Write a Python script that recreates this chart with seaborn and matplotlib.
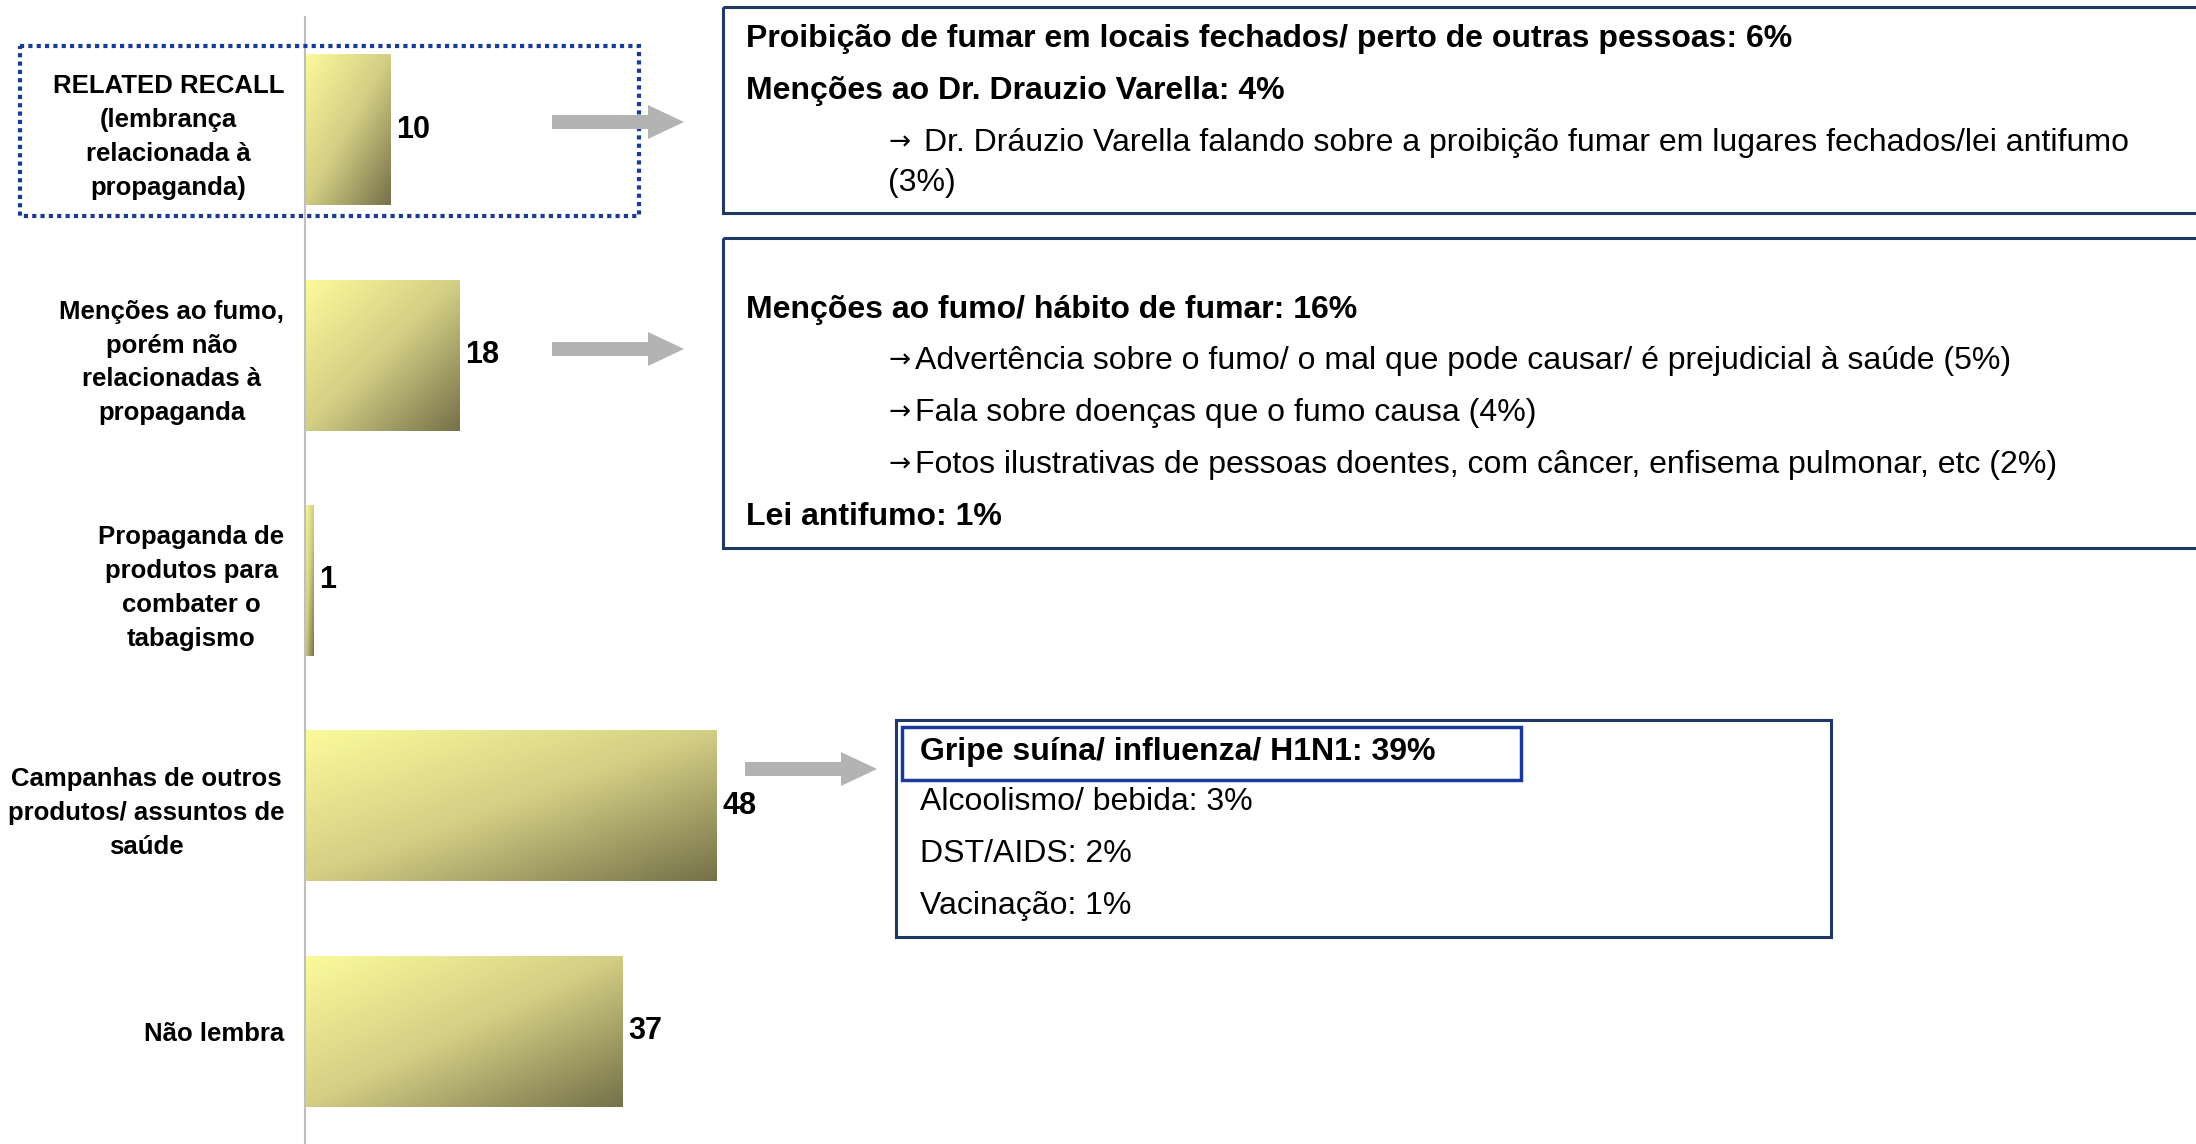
import numpy as np
import pandas as pd
import seaborn as sns
import matplotlib.pyplot as plt
from matplotlib.colors import LinearSegmentedColormap
from matplotlib.patches import Rectangle, FancyArrow

# chart data
categories = [
    "RELATED RECALL\n(lembrança\nrelacionada à\npropaganda)",
    "Menções ao fumo,\nporém não\nrelacionadas à\npropaganda",
    "Propaganda de\nprodutos para\ncombater o\ntabagismo",
    "Campanhas de outros\nprodutos/ assuntos de\nsaúde",
    "Não lembra",
]
values = [10, 18, 1, 48, 37]

# callout texts
box1_bold = ["Proibição de fumar em locais fechados/ perto de outras pessoas: 6%",
             "Menções ao Dr. Drauzio Varella: 4%"]
box1_sub = ["Dr. Dráuzio Varella falando sobre a proibição fumar em lugares fechados/lei antifumo",
            "(3%)"]
box2_head = "Menções ao fumo/ hábito de fumar: 16%"
box2_sub = ["Advertência sobre o fumo/ o mal que pode causar/ é prejudicial à saúde (5%)",
            "Fala sobre doenças que o fumo causa (4%)",
            "Fotos ilustrativas de pessoas doentes, com câncer, enfisema pulmonar, etc (2%)"]
box2_tail = "Lei antifumo: 1%"
box3_head = "Gripe suína/ influenza/ H1N1: 39%"
box3_rest = ["Alcoolismo/ bebida: 3%", "DST/AIDS: 2%", "Vacinação: 1%"]

sns.set_style("white")
plt.rcParams['font.family'] = ['Liberation Sans', 'DejaVu Sans']
plt.rcParams['text.color'] = 'black'

W, H = 2196, 1144
fig = plt.figure(figsize=(W / 100, H / 100), dpi=100)
ax = fig.add_axes([305 / W, 0, 1 - 305 / W, 1127 / H])

df = pd.DataFrame({'cat': categories, 'val': values})
sns.barplot(data=df, x='val', y='cat', orient='h', width=0.67,
            color='#D6D286', ax=ax)

# diagonal gradient fill for the bars
cmap = LinearSegmentedColormap.from_list('olive', ['#FBFB9B', '#D2CE84', '#767149'])
u, v = np.meshgrid(np.linspace(0, 1, 200), np.linspace(0, 1, 100))
grad = (u + v) / 2
for p in ax.patches:
    x0, y0 = p.get_x(), p.get_y()
    w, h = p.get_width(), p.get_height()
    im = ax.imshow(grad, cmap=cmap, extent=(x0, x0 + w, y0 + h, y0),
                   aspect='auto', origin='upper', zorder=p.get_zorder() + 0.1)
    im.set_clip_path(p)

ax.bar_label(ax.containers[0], padding=4, fontsize=22, fontweight='bold',
             color='black')

ax.set_xlim(0, 220.4)
ax.set_ylim(4.5, -0.5)
ax.set_xticks([])
ax.set_xlabel('')
ax.set_ylabel('')
for s in ['top', 'right', 'bottom']:
    ax.spines[s].set_visible(False)
ax.spines['left'].set_color('#BFBFBF')
ax.spines['left'].set_linewidth(1.5)
ax.set_yticks(np.arange(-0.5, 5, 1), minor=True)
ax.tick_params(axis='y', which='major', length=0, pad=15, labelsize=18.5,
               labelcolor='black')
ax.tick_params(axis='y', which='minor', length=6, width=1.5, color='#BFBFBF')
for lbl in ax.get_yticklabels():
    lbl.set_fontweight('bold')
    lbl.set_multialignment('center')
    lbl.set_linespacing(1.52)

# overlay in pixel coordinates for the callouts
ov = fig.add_axes([0, 0, 1, 1])
ov.set_xlim(0, W)
ov.set_ylim(H, 0)
ov.axis('off')

navy = '#1F3864'
blue = '#1A3A99'
ov.add_patch(Rectangle((20, 46), 619, 170, fill=False, ec=blue, lw=3,
                       ls=(0, (1, 1))))
ov.add_patch(Rectangle((723, 7), 1500, 206, fill=False, ec=navy, lw=2.2))
ov.add_patch(Rectangle((723, 238), 1500, 310, fill=False, ec=navy, lw=2.2))
ov.add_patch(Rectangle((896, 720), 935, 217, fill=False, ec=navy, lw=2.2))
ov.add_patch(Rectangle((902, 727), 619, 53, fill=False, ec=blue, lw=2.5))

for (x, y) in [(552, 122), (552, 349), (745, 769)]:
    ov.add_patch(FancyArrow(x, y, 132, 0, width=14, head_width=34, head_length=36,
                            length_includes_head=True, color='#B3B3B3', lw=0))

fs = 23
arrow_kw = dict(fontsize=19, va='center', family='DejaVu Sans')
ov.text(746, 39, box1_bold[0], fontsize=fs, fontweight='bold', va='center')
ov.text(746, 91, box1_bold[1], fontsize=fs, fontweight='bold', va='center')
ov.text(888, 143, "\u2192", **arrow_kw)
ov.text(924, 143, box1_sub[0], fontsize=fs, va='center')
ov.text(888, 183, box1_sub[1], fontsize=fs, va='center')

ov.text(746, 310, box2_head, fontsize=fs, fontweight='bold', va='center')
for i, t in enumerate(box2_sub):
    ov.text(888, 361 + 52 * i, "\u2192", **arrow_kw)
    ov.text(915, 361 + 52 * i, t, fontsize=fs, va='center')
ov.text(746, 517, box2_tail, fontsize=fs, fontweight='bold', va='center')

ov.text(920, 752, box3_head, fontsize=fs, fontweight='bold', va='center')
for i, t in enumerate(box3_rest):
    ov.text(920, 802 + 52 * i, t, fontsize=fs, va='center')

fig.savefig('out.png', dpi=100)
